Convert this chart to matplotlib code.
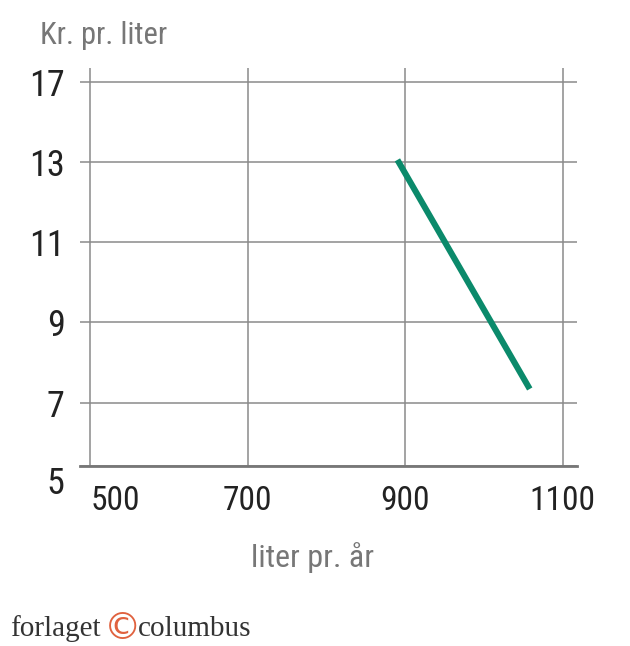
import matplotlib
matplotlib.use("Agg")
import matplotlib.pyplot as plt
from matplotlib import font_manager

# Data
price_x = [890, 1058]          # liter pr. år
price_y = [13.05, 7.34]        # kr. pr. liter

x_ticks = [500, 700, 900, 1100]
x_labels = ["500", "700", "900", "1100"]
y_ticks = [5.42, 7, 9, 11, 13, 15]
y_labels = ["5", "7", "9", "11", "13", "17"]

x_title = "liter pr. år"
y_title = "Kr. pr. liter"

# narrow sans if available
installed = {f.name for f in font_manager.fontManager.ttflist}
narrow = next((f for f in ["Roboto Condensed", "Liberation Sans Narrow", "Roboto"]
               if f in installed), "DejaVu Sans")
serif = next((f for f in ["Liberation Serif", "DejaVu Serif"] if f in installed), "serif")

GRID = "#8a8a8a"
GREEN = "#0b8a6b"

fig = plt.figure(figsize=(6.3, 6.46), dpi=100)
ax = fig.add_axes([80 / 630, 1 - 466 / 646, 497 / 630, 398 / 646])

ax.plot(price_x, price_y, color=GREEN, lw=4.4, solid_capstyle="butt", zorder=3)

ax.set_xlim(487, 1118)
ax.set_ylim(5.42, 15.34)
ax.set_xticks(x_ticks)
ax.set_xticklabels(x_labels)
ax.set_yticks(y_ticks)
ax.set_yticklabels(y_labels)

ax.grid(True, color=GRID, lw=1.1)
ax.set_axisbelow(True)
for s in ["top", "right", "left"]:
    ax.spines[s].set_visible(False)
ax.spines["bottom"].set_color("#777777")
ax.spines["bottom"].set_linewidth(2)

ax.tick_params(axis="both", length=0, colors="#222222")
ax.tick_params(axis="y", pad=11, labelsize=26)
ax.tick_params(axis="x", pad=14, labelsize=24)
for lab in ax.get_yticklabels() + ax.get_xticklabels():
    lab.set_fontfamily(narrow)
ax.get_yticklabels()[0].set_verticalalignment("top")
ax.get_xticklabels()[0].set_horizontalalignment("left")

fig.text(313 / 630, 1 - 558 / 646, x_title, ha="center", va="center",
         fontsize=23, color="#777777", family=narrow)
fig.text(40 / 630, 1 - 36 / 646, y_title, ha="left", va="center",
         fontsize=22, color="#777777", family=narrow)

# footer logo
fig.text(10 / 630, 1 - 636 / 646, "forlaget", ha="left", va="baseline",
         fontsize=21, color="#333333", family=serif)
fig.text(104 / 630, 1 - 639 / 646, "©", ha="left", va="baseline",
         fontsize=27, color="#e0623f", family="DejaVu Sans")
fig.text(138 / 630, 1 - 636 / 646, "columbus", ha="left", va="baseline",
         fontsize=21, color="#333333", family=serif)

fig.savefig("out.png", dpi=100)
